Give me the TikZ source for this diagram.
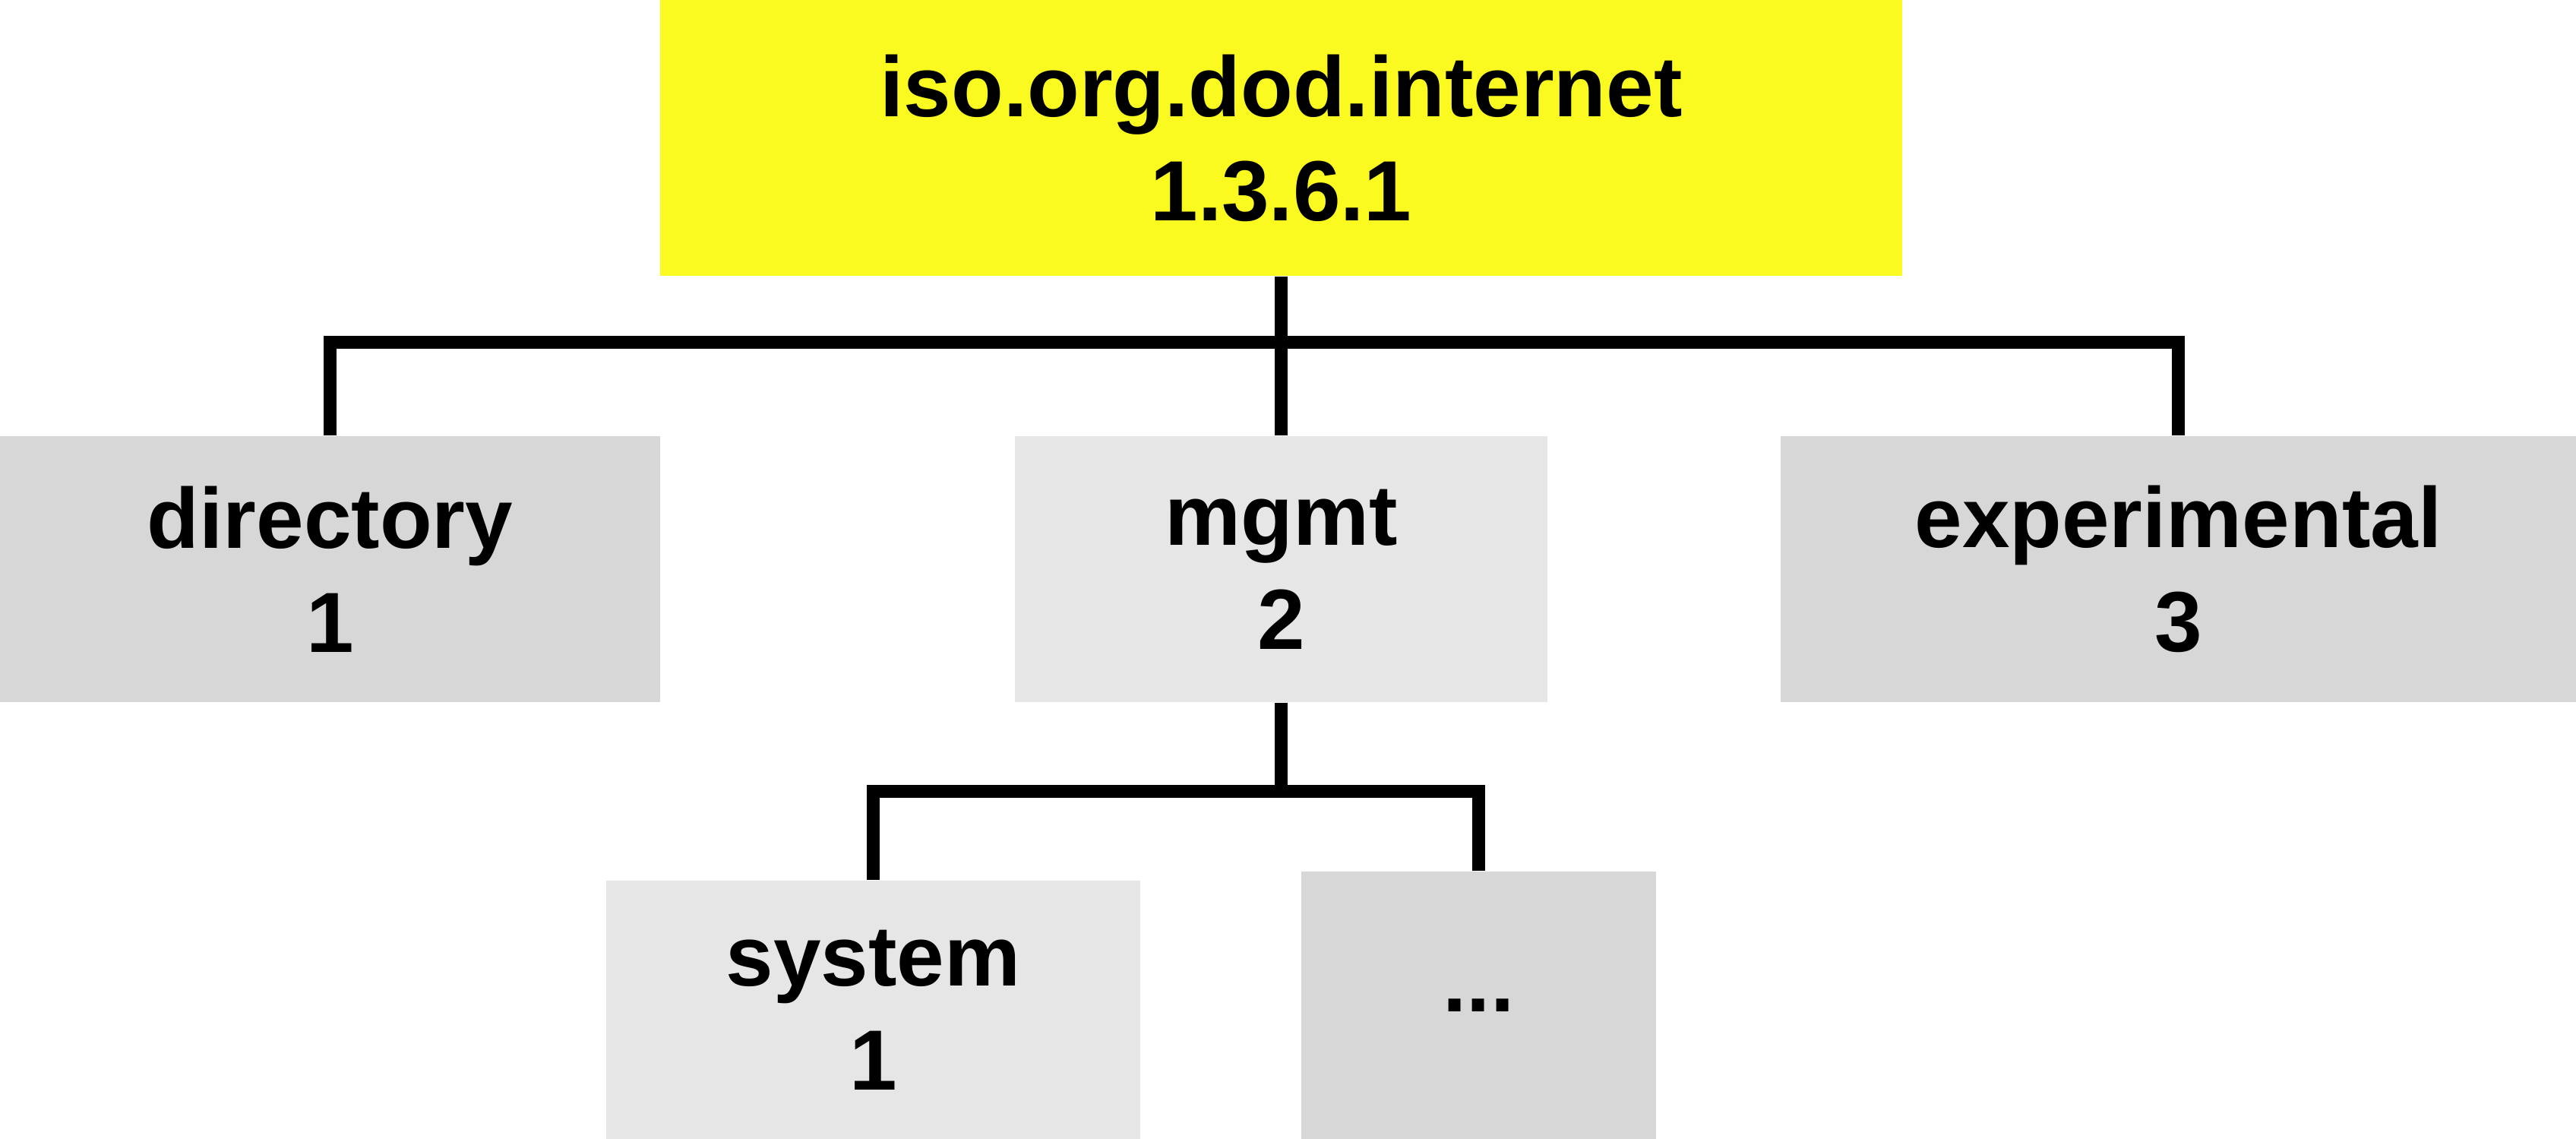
\documentclass[tikz,border=0pt]{standalone}
\usepackage{fontspec}
\setmainfont{Liberation Sans}
\definecolor{rootyellow}{RGB}{250,250,32}
\definecolor{boxdark}{RGB}{215,215,215}
\definecolor{boxlight}{RGB}{230,230,230}
\tikzset{
  box/.style={rectangle, inner sep=0pt, align=center, font=\fontsize{32}{39}\selectfont\bfseries},
  darkbox/.style={box, fill=boxdark},
  lightbox/.style={box, fill=boxlight},
  conn/.style={line width=4.8pt}
}
\begin{document}
\begin{tikzpicture}
    \useasboundingbox (0,0) rectangle (33.91,-14.99);
    % Wurzel
    \node[box, fill=rootyellow, minimum width=16.35cm, minimum height=3.63cm] (root) at (16.865,-1.815) {iso.org.dod.internet\\1.3.6.1};
    % zweite Ebene
    \node[darkbox, minimum width=8.69cm, minimum height=3.5cm] (dir) at (4.345,-7.49) {directory\\1};
    \node[lightbox, minimum width=7.01cm, minimum height=3.5cm] (mgmt) at (16.865,-7.49) {mgmt\\2};
    \node[darkbox, minimum width=10.47cm, minimum height=3.5cm] (exp) at (28.675,-7.49) {experimental\\3};
    % dritte Ebene
    \node[lightbox, minimum width=7.03cm, minimum height=3.4cm] (sys) at (11.495,-13.29) {system\\1};
    \node[darkbox, minimum width=4.67cm, minimum height=3.52cm] (more) at (19.465,-13.23) {...};
    % Linien
    \draw[conn] (root.south) -- ++(0,-0.87) -| (dir.north);
    \draw[conn] (root.south) -- (mgmt.north);
    \draw[conn] (root.south) -- ++(0,-0.87) -| (exp.north);
    \draw[conn] (mgmt.south) -- ++(0,-1.17) -| (sys.north);
    \draw[conn] (mgmt.south) -- ++(0,-1.17) -| (more.north);
\end{tikzpicture}
\end{document}
